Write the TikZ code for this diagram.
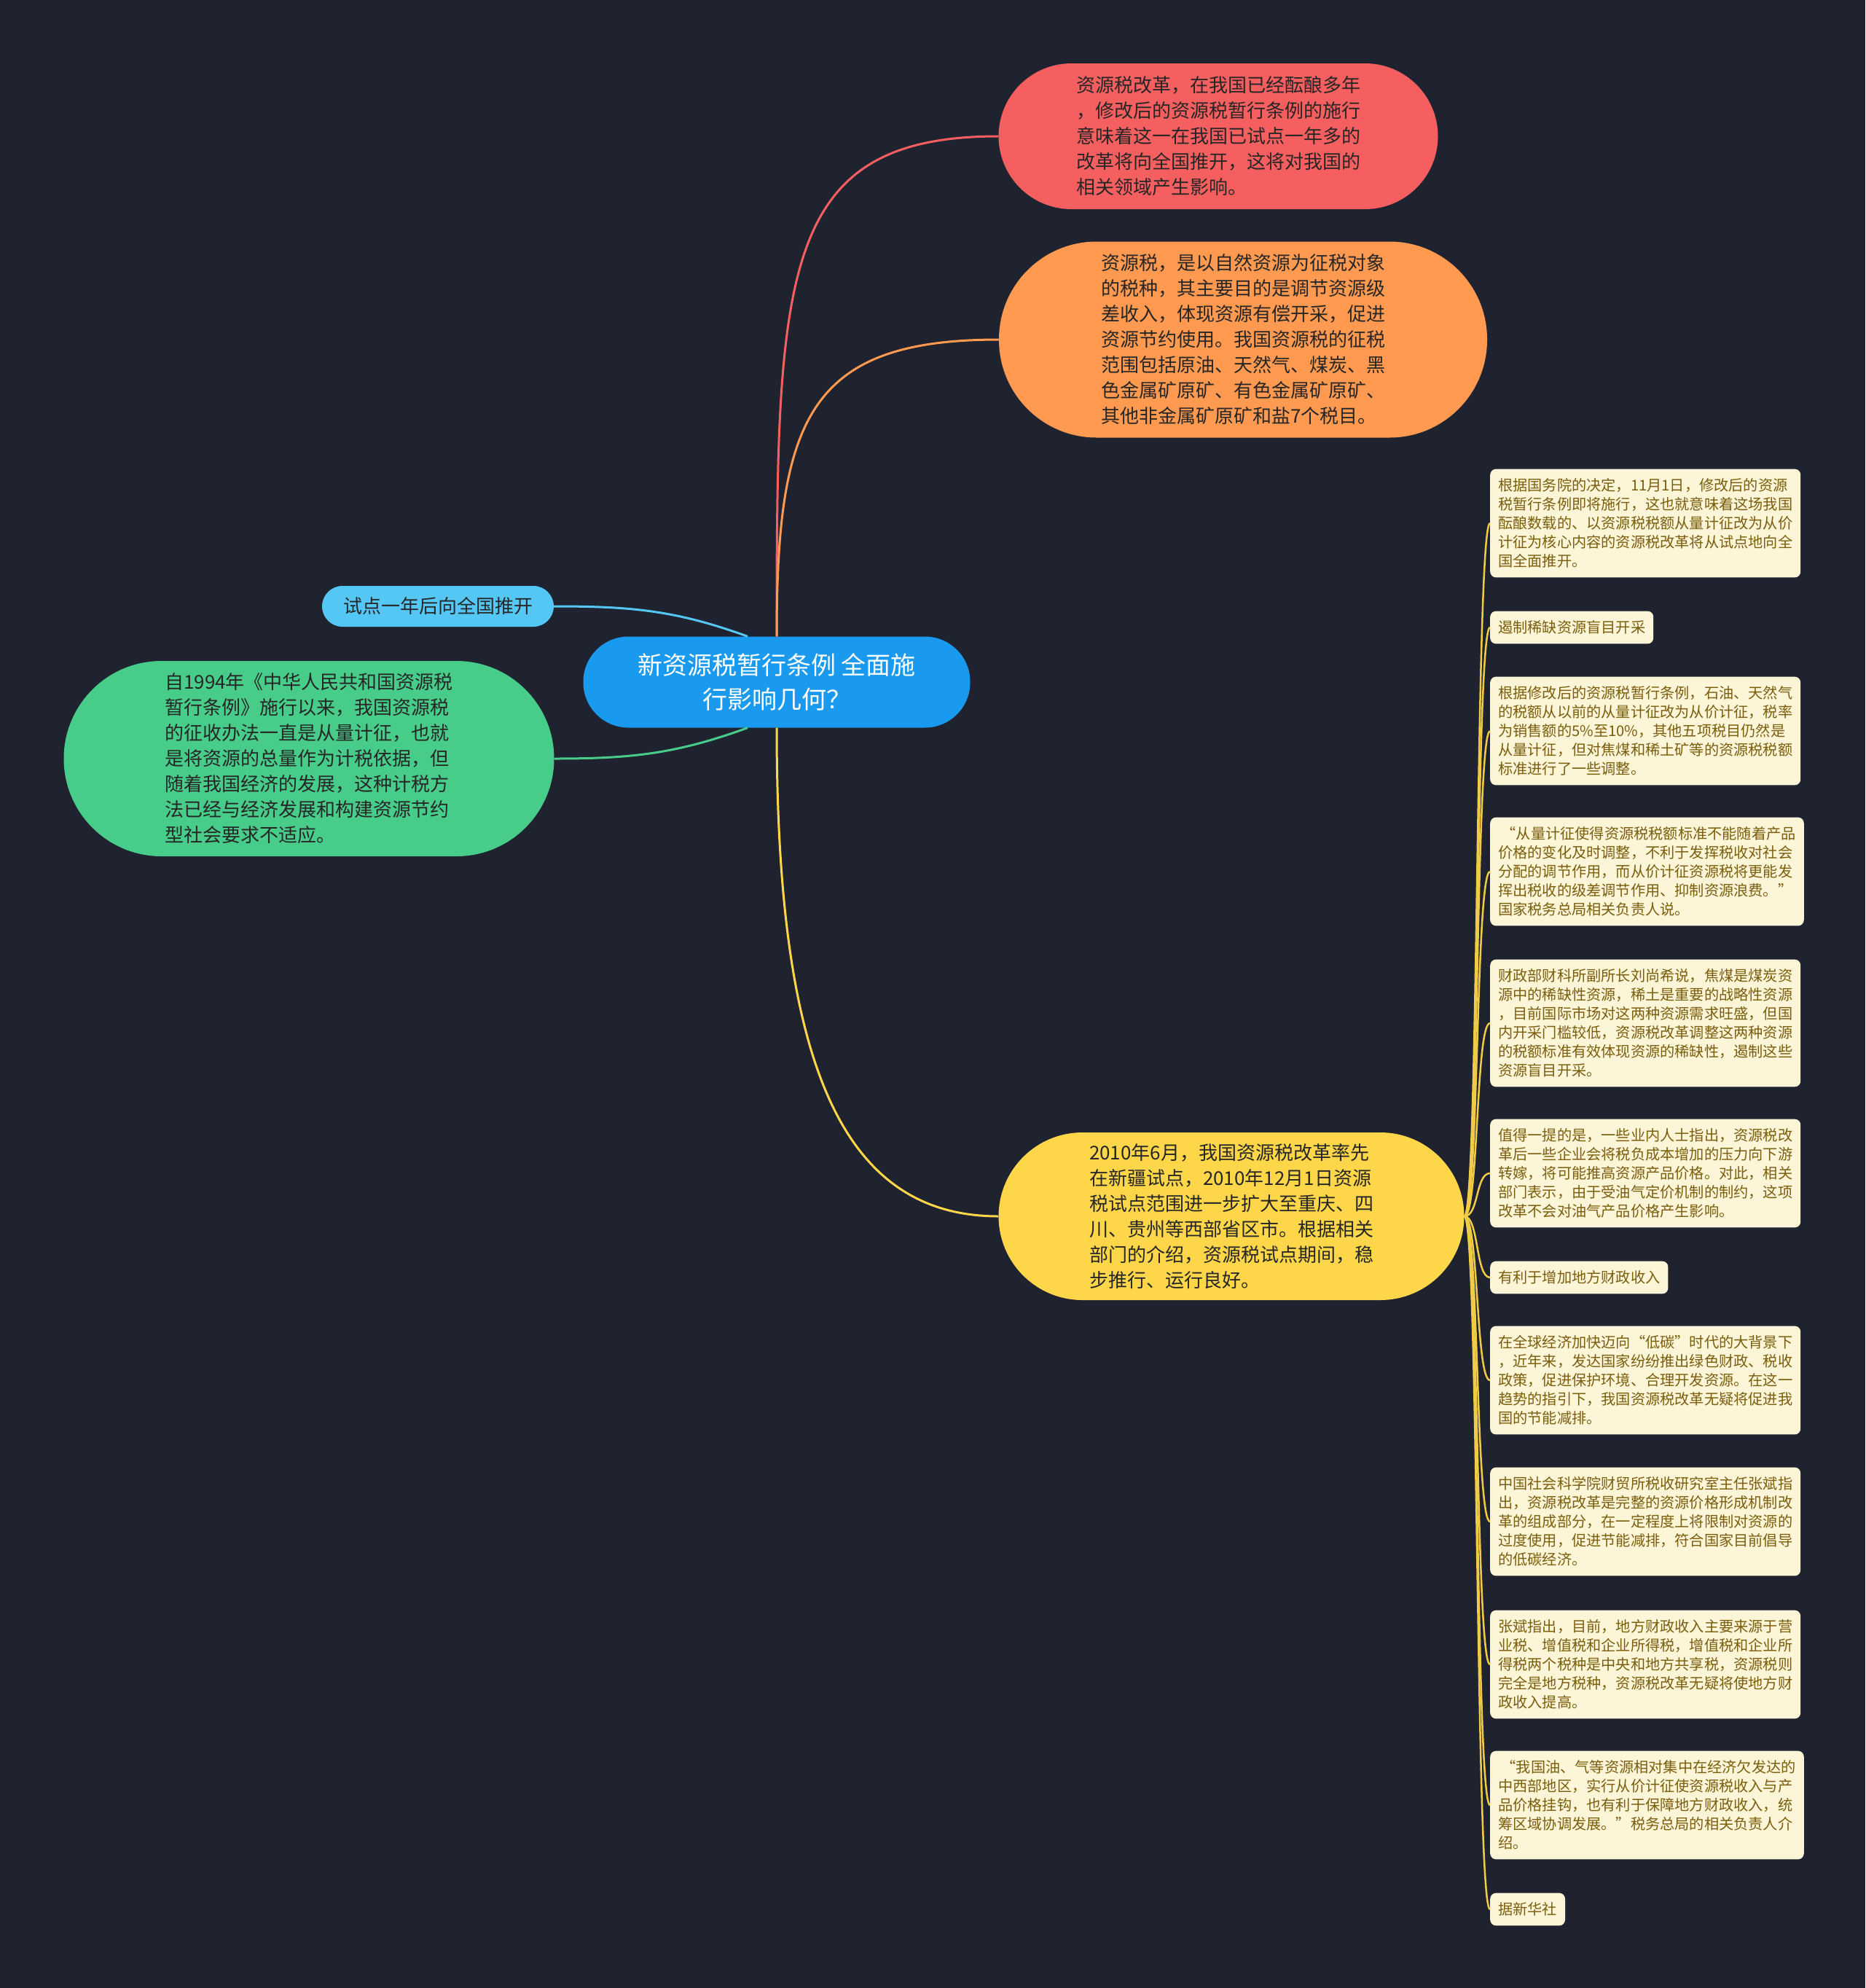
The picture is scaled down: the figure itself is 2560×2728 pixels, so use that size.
\documentclass[tikz,border=0pt]{standalone}
\usepackage{fontspec}
\setmainfont{Noto Sans CJK SC}
\usepackage{xcolor}
\usepackage{tikz}
\usetikzlibrary{positioning}

\definecolor{bgc}{HTML}{1F2330}
\definecolor{rootc}{HTML}{1A9AEF}
\definecolor{redc}{HTML}{F65F5F}
\definecolor{orgc}{HTML}{FF9A50}
\definecolor{yelc}{HTML}{FDD64A}
\definecolor{bluc}{HTML}{55C7F5}
\definecolor{grnc}{HTML}{48CC89}
\definecolor{leafc}{HTML}{FDF5D8}
\definecolor{leaft}{HTML}{7A5E0C}

\begin{document}
\begin{tikzpicture}[x=1pt, y=1pt,
    pill/.style={rounded corners=#1, inner sep=0pt, align=left, text=black!85,
        font=\fontsize{26}{35}\selectfont},
    leaf/.style={anchor=west, fill=leafc, text=leaft, rounded corners=8pt, align=left,
        inner xsep=11pt, inner ysep=13pt, font=\fontsize{20.2}{26}\selectfont},
    leafline/.style={draw=yelc!95!black, line width=2.5pt}]

    \fill[bgc] (0,0) rectangle (2560,-2728);
    \useasboundingbox (0,0) rectangle (2560,-2728);

    \node[pill=62pt, fill=rootc, text=white, align=center, minimum width=531pt, minimum height=125pt,
          font=\fontsize{34}{47}\selectfont] (root) at (1066,-936)
        {新资源税暂行条例 全面施\\行影响几何？};

    \node[pill=100pt, fill=redc, minimum width=603pt, minimum height=200pt] (b1) at (1672,-187)
        {资源税改革，在我国已经酝酿多年\\，修改后的资源税暂行条例的施行\\意味着这一在我国已试点一年多的\\改革将向全国推开，这将对我国的\\相关领域产生影响。};
    \node[pill=134pt, fill=orgc, minimum width=670pt, minimum height=269pt] (b2) at (1706,-466)
        {资源税，是以自然资源为征税对象\\的税种，其主要目的是调节资源级\\差收入，体现资源有偿开采，促进\\资源节约使用。我国资源税的征税\\范围包括原油、天然气、煤炭、黑\\色金属矿原矿、有色金属矿原矿、\\其他非金属矿原矿和盐7个税目。};
    \node[pill=115pt, fill=yelc, minimum width=639pt, minimum height=230pt] (b3) at (1690,-1669)
        {2010年6月，我国资源税改革率先\\在新疆试点，2010年12月1日资源\\税试点范围进一步扩大至重庆、四\\川、贵州等西部省区市。根据相关\\部门的介绍，资源税试点期间，稳\\步推行、运行良好。};
    \node[pill=28pt, fill=bluc, minimum width=318pt, minimum height=56pt] (b4) at (601,-832)
        {试点一年后向全国推开};
    \node[pill=134pt, fill=grnc, minimum width=673pt, minimum height=268pt] (b5) at (424,-1041)
        {自1994年《中华人民共和国资源税\\暂行条例》施行以来，我国资源税\\的征收办法一直是从量计征，也就\\是将资源的总量作为计税依据，但\\随着我国经济的发展，这种计税方\\法已经与经济发展和构建资源节约\\型社会要求不适应。};

    % leaves of the yellow branch
    \node[leaf] (l1) at (2045,-718)
        {根据国务院的决定，11月1日，修改后的资源\\税暂行条例即将施行，这也就意味着这场我国\\酝酿数载的、以资源税税额从量计征改为从价\\计征为核心内容的资源税改革将从试点地向全\\国全面推开。};
    \node[leaf] (l2) at (2045,-861) {遏制稀缺资源盲目开采};
    \node[leaf] (l3) at (2045,-1003)
        {根据修改后的资源税暂行条例，石油、天然气\\的税额从以前的从量计征改为从价计征，税率\\为销售额的5\%至10\%，其他五项税目仍然是\\从量计征，但对焦煤和稀土矿等的资源税税额\\标准进行了一些调整。};
    \node[leaf] (l4) at (2045,-1196)
        {\ “从量计征使得资源税税额标准不能随着产品\\价格的变化及时调整，不利于发挥税收对社会\\分配的调节作用，而从价计征资源税将更能发\\挥出税收的级差调节作用、抑制资源浪费。”\\国家税务总局相关负责人说。};
    \node[leaf] (l5) at (2045,-1404)
        {财政部财科所副所长刘尚希说，焦煤是煤炭资\\源中的稀缺性资源，稀土是重要的战略性资源\\，目前国际市场对这两种资源需求旺盛，但国\\内开采门槛较低，资源税改革调整这两种资源\\的税额标准有效体现资源的稀缺性，遏制这些\\资源盲目开采。};
    \node[leaf] (l6) at (2045,-1610)
        {值得一提的是，一些业内人士指出，资源税改\\革后一些企业会将税负成本增加的压力向下游\\转嫁，将可能推高资源产品价格。对此，相关\\部门表示，由于受油气定价机制的制约，这项\\改革不会对油气产品价格产生影响。};
    \node[leaf] (l7) at (2045,-1753) {有利于增加地方财政收入};
    \node[leaf] (l8) at (2045,-1894)
        {在全球经济加快迈向“低碳”时代的大背景下\\，近年来，发达国家纷纷推出绿色财政、税收\\政策，促进保护环境、合理开发资源。在这一\\趋势的指引下，我国资源税改革无疑将促进我\\国的节能减排。};
    \node[leaf] (l9) at (2045,-2088)
        {中国社会科学院财贸所税收研究室主任张斌指\\出，资源税改革是完整的资源价格形成机制改\\革的组成部分，在一定程度上将限制对资源的\\过度使用，促进节能减排，符合国家目前倡导\\的低碳经济。};
    \node[leaf] (l10) at (2045,-2284)
        {张斌指出，目前，地方财政收入主要来源于营\\业税、增值税和企业所得税，增值税和企业所\\得税两个税种是中央和地方共享税，资源税则\\完全是地方税种，资源税改革无疑将使地方财\\政收入提高。};
    \node[leaf] (l11) at (2045,-2477)
        {\ “我国油、气等资源相对集中在经济欠发达的\\中西部地区，实行从价计征使资源税收入与产\\品价格挂钩，也有利于保障地方财政收入，统\\筹区域协调发展。”税务总局的相关负责人介\\绍。};
    \node[leaf] (l12) at (2045,-2620) {据新华社};

    \path[line width=3pt]
    (root) edge[draw=redc, out=90, in=180, out distance=500pt, in distance=300pt] (b1)
           edge[draw=orgc, out=90, in=180, out distance=300pt, in distance=260pt] (b2)
           edge[draw=yelc, out=-90, in=180, out distance=450pt, in distance=220pt] (b3)
    (b4) edge[draw=bluc, out=0, in=160] ([xshift=-40pt]root.north)
    (b5) edge[draw=grnc, out=0, in=200] ([xshift=-40pt]root.south);

    \path[leafline]
    (b3) edge[out=0, in=180, distance=20pt] (l1)
         edge[out=0, in=180, distance=20pt] (l2)
         edge[out=0, in=180, distance=20pt] (l3)
         edge[out=0, in=180, distance=20pt] (l4)
         edge[out=0, in=180, distance=20pt] (l5)
         edge[out=0, in=180, distance=20pt] (l6)
         edge[out=0, in=180, distance=20pt] (l7)
         edge[out=0, in=180, distance=20pt] (l8)
         edge[out=0, in=180, distance=20pt] (l9)
         edge[out=0, in=180, distance=20pt] (l10)
         edge[out=0, in=180, distance=20pt] (l11)
         edge[out=0, in=180, distance=20pt] (l12);
\end{tikzpicture}
\end{document}
